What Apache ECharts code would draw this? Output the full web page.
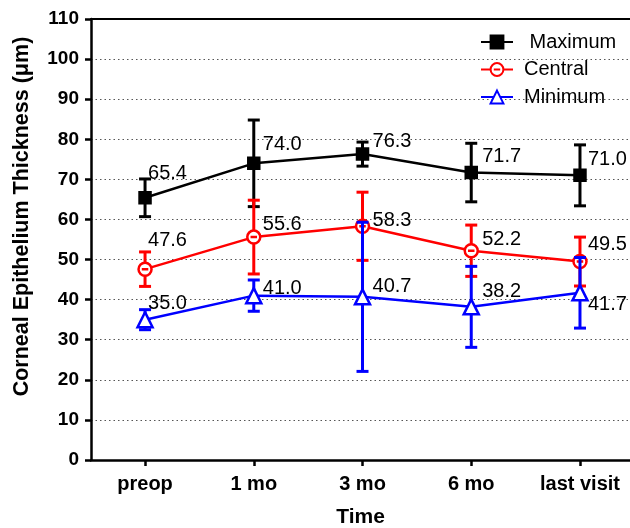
<!DOCTYPE html>
<html>
<head>
<meta charset="utf-8">
<script src="https://cdn.jsdelivr.net/npm/echarts@6/dist/echarts.min.js"></script>
<style>
html,body{margin:0;padding:0;background:#fff;}
#chart{width:630px;height:528px;}
</style>
</head>
<body>
<div id="chart"></div>
<script>
var categories = ['preop', '1 mo', '3 mo', '6 mo', 'last visit'];
var yTicks = [0, 10, 20, 30, 40, 50, 60, 70, 80, 90, 100, 110];

var maximumMean = [65.4, 74.0, 76.3, 71.7, 71.0];
var maximumSD   = [4.7, 10.8, 3.0, 7.3, 7.6];
var centralMean = [47.6, 55.6, 58.3, 52.2, 49.5];
var centralSD   = [4.3, 9.2, 8.5, 6.4, 6.1];
var minimumMean = [35.0, 41.0, 40.7, 38.2, 41.7];
var minimumSD   = [2.5, 3.9, 18.6, 10.1, 8.8];

var FONT = 'Liberation Sans, Arial, Helvetica, sans-serif';

// label placement (pixels relative to the point)
var labelShift = {
  Maximum: [[3,-24.5],[9,-19],[10,-13],[11,-16],[8,-16]],
  Central: [[3,-29],[9,-13],[10,-6],[11,-11],[8,-17]],
  Minimum: [[3,-16.5],[9,-7.5],[10,-10.5],[11,-15],[8,12]]
};

function errorSeries(name, color, means, sds, z) {
  return {
    type: 'custom',
    name: name + ' SD',
    z: z,
    data: means.map(function (m, i) { return [i, m, sds[i]]; }),
    renderItem: function (params, api) {
      var x = api.value(0), m = api.value(1), e = api.value(2);
      var top = api.coord([x, m + e]);
      var bot = api.coord([x, m - e]);
      var hw = 6;
      var st = { stroke: color, lineWidth: 3 };
      return {
        type: 'group',
        children: [
          { type: 'line', shape: { x1: top[0], y1: top[1], x2: bot[0], y2: bot[1] }, style: st },
          { type: 'line', shape: { x1: top[0] - hw, y1: top[1], x2: top[0] + hw, y2: top[1] }, style: st },
          { type: 'line', shape: { x1: bot[0] - hw, y1: bot[1], x2: bot[0] + hw, y2: bot[1] }, style: st }
        ]
      };
    }
  };
}

function lineSeries(name, color, means, symbol, symbolSize, fill, z) {
  var shifts = labelShift[name];
  return {
    type: 'line',
    name: name,
    z: z,
    symbol: symbol,
    symbolSize: symbolSize,
    showAllSymbol: true,
    lineStyle: { color: color, width: 2.5 },
    itemStyle: { color: fill, borderColor: color, borderWidth: 2.5 },
    emphasis: { disabled: true },
    data: means.map(function (m, i) {
      return {
        value: [i, m],
        label: {
          show: true,
          position: 'inside',
          align: 'left',
          verticalAlign: 'middle',
          offset: shifts[i],
          formatter: function (p) { return p.value[1].toFixed(1); },
          color: '#000',
          fontSize: 20,
          fontFamily: FONT
        }
      };
    })
  };
}

var circleDash = 'path://M0,10 A10,10 0 1,1 20,10 A10,10 0 1,1 0,10 Z M5,10 L15,10';

var option = {
  animation: false,
  backgroundColor: '#fff',
  grid: { left: 91, right: 0, top: 19, bottom: 68, outerBoundsMode: 'none', containLabel: false },
  legend: {
    left: 475, top: 27, orient: 'vertical',
    itemWidth: 32, itemHeight: 16, itemGap: 7.5,
    data: ['Maximum', 'Central', 'Minimum'],
    formatter: function (n) { return n === 'Maximum' ? ' ' + n : n; },
    textStyle: { fontSize: 20, fontFamily: FONT, color: '#000', padding: [0, 0, 0, 6], lineHeight: 20 }
  },
  xAxis: [{
    type: 'value',
    min: -0.497, max: 4.46,
    name: 'Time', nameLocation: 'middle', nameGap: 47,
    nameTextStyle: { fontSize: 21, fontWeight: 'bold', fontFamily: FONT, color: '#000' },
    axisLine: { show: true, onZero: false, lineStyle: { color: '#000', width: 2.5 } },
    axisTick: { show: true, length: 6, lineStyle: { color: '#000', width: 2.5 }, customValues: [0, 1, 2, 3, 4] },
    axisLabel: {
      customValues: [0, 1, 2, 3, 4], margin: 14,
      fontSize: 20, fontWeight: 'bold', fontFamily: FONT, color: '#000',
      formatter: function (v) { return categories[Math.round(v)]; }
    },
    splitLine: { show: false }
  }, {
    type: 'value', position: 'top',
    min: -0.497, max: 4.46,
    axisLine: { show: true, onZero: false, lineStyle: { color: '#000', width: 2 } },
    axisTick: { show: false }, axisLabel: { show: false }, splitLine: { show: false }
  }],
  yAxis: {
    type: 'value', min: 0, max: 110, interval: 10,
    name: 'Corneal Epithelium Thickness (\u03bcm)', nameLocation: 'middle', nameGap: 58,
    nameTextStyle: { fontSize: 21.5, fontWeight: 'bold', fontFamily: FONT, color: '#000', padding: [0, 0, 0, 46] },
    axisLine: { show: true, onZero: false, lineStyle: { color: '#000', width: 2.5 } },
    axisTick: { show: true, length: 6, lineStyle: { color: '#000', width: 2.5 } },
    axisLabel: {
      margin: 12, fontSize: 19, fontWeight: 'bold', fontFamily: FONT, color: '#000',
      customValues: yTicks
    },
    splitLine: { show: true, lineStyle: { color: '#555', width: 1, type: [1.5, 3] } }
  },
  series: [
    errorSeries('Maximum', '#000', maximumMean, maximumSD, 2),
    lineSeries('Maximum', '#000', maximumMean, 'rect', 11, '#000', 3),
    errorSeries('Central', '#ff0000', centralMean, centralSD, 4),
    lineSeries('Central', '#ff0000', centralMean, circleDash, 13, '#fff', 5),
    errorSeries('Minimum', '#0000ff', minimumMean, minimumSD, 6),
    lineSeries('Minimum', '#0000ff', minimumMean, 'triangle', 15, '#fff', 7)
  ]
};

var chart = echarts.init(document.getElementById('chart'), null, { renderer: 'canvas' });
chart.setOption(option);
</script>
</body>
</html>
